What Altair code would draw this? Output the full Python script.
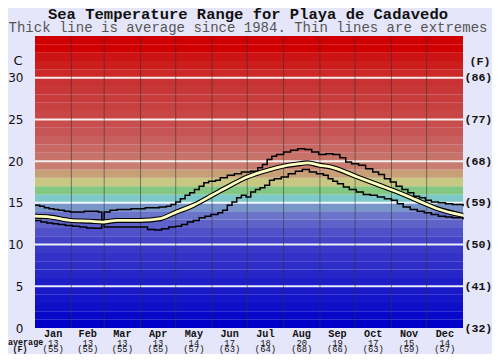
import altair as alt
import pandas as pd

# ---------------- data ----------------
months = ["Jan", "Feb", "Mar", "Apr", "May", "Jun", "Jul", "Aug", "Sep", "Oct", "Nov", "Dec"]
month_start = [0, 31, 59, 90, 120, 151, 181, 212, 243, 273, 304, 334]
month_len = [31, 28, 31, 30, 31, 30, 31, 31, 30, 31, 30, 31]
avg_c = [13, 13, 13, 13, 14, 17, 18, 20, 19, 17, 15, 14]
avg_f = [55, 55, 55, 55, 57, 63, 64, 68, 66, 63, 59, 57]

avg_day = [0, 13, 30, 47, 58, 70, 90, 107, 119, 135, 151, 164, 181, 198, 212, 226, 232, 243,
           252, 275, 294, 309, 326, 343, 365]
avg_temp = [13.4, 13.3, 12.9, 12.8, 12.7, 12.9, 12.9, 13.1, 13.8, 14.7, 15.9, 16.9, 18.1, 18.9,
            19.4, 19.7, 19.8, 19.5, 19.3, 18.1, 17.1, 16.3, 15.3, 14.3, 13.5]

max_day = [0, 4, 8, 12, 16, 20, 25, 30, 36, 42, 48, 54, 57, 59, 64, 70, 76, 82, 88, 94, 100, 106,
           112, 116, 120, 124, 128, 132, 136, 140, 144, 148, 154, 158, 164, 170, 176, 184, 190,
           194, 198, 202, 206, 212, 218, 224, 230, 236, 242, 248, 254, 260, 265, 270, 276, 282,
           288, 293, 298, 303, 308, 313, 318, 323, 328, 333, 338, 344, 350, 356, 365]
max_temp = [14.7, 14.6, 14.4, 14.3, 14.2, 14.1, 14.0, 13.9, 13.9, 14.0, 14.0, 13.9, 12.9, 13.9,
            14.1, 14.2, 14.2, 14.3, 14.3, 14.4, 14.4, 14.5, 14.6, 14.8, 15.1, 15.5, 15.9, 16.2,
            16.6, 17.0, 17.4, 17.6, 17.7, 18.0, 18.3, 18.5, 18.7, 18.8, 19.2, 19.6, 20.2, 20.6,
            20.8, 21.1, 21.3, 21.5, 21.4, 21.1, 20.8, 20.9, 20.8, 20.4, 19.9, 19.7, 19.5, 19.1,
            18.7, 18.4, 17.9, 17.5, 17.0, 16.6, 16.2, 15.8, 15.6, 15.3, 15.1, 15.0, 14.9, 14.8,
            14.6]

min_day = [0, 5, 10, 15, 20, 26, 32, 38, 44, 50, 56, 57, 59, 66, 74, 82, 90, 96, 102, 108, 114,
           120, 125, 130, 135, 140, 145, 150, 156, 160, 164, 168, 172, 176, 180, 184, 188, 192,
           196, 200, 204, 210, 216, 222, 228, 234, 240, 246, 250, 254, 258, 263, 268, 274, 280,
           286, 292, 298, 304, 309, 314, 320, 326, 332, 338, 344, 350, 356, 365]
min_temp = [12.9, 12.7, 12.6, 12.5, 12.4, 12.3, 12.2, 12.1, 12.0, 11.95, 12.0, 12.7, 12.1, 12.1,
            12.1, 12.1, 12.1, 11.8, 11.75, 11.9, 12.1, 12.2, 12.4, 12.7, 12.9, 13.2, 13.4, 13.6,
            13.8, 14.1, 14.7, 15.1, 15.6, 15.9, 15.7, 16.3, 16.6, 16.8, 17.1, 17.7, 17.9, 18.1,
            18.5, 18.8, 19.0, 18.7, 18.5, 18.3, 17.9, 17.6, 17.3, 16.9, 16.6, 16.3, 16.0, 15.9,
            15.7, 15.5, 15.3, 14.9, 14.5, 14.2, 14.0, 13.8, 13.6, 13.4, 13.3, 13.2, 13.0]

band_lo = list(range(0, 35))
band_colors = [
    "#0000c8", "#0808c8", "#0f0fc8", "#1414c8", "#1919c8", "#1e1ec8", "#2626c8", "#2d2dc8",
    "#3232c8", "#3a3ac8", "#4444c8", "#5050c8", "#5f62c8", "#6a74c8", "#7896c8", "#7dc8c8",
    "#82c882", "#c8c882", "#c8a078", "#c87d6e", "#c87369", "#c86964", "#c85f5f", "#c85555",
    "#c84e4e", "#c84646", "#c84141", "#c83c3c", "#c83737", "#c83232", "#cd2828", "#cd1e1e",
    "#cd1414", "#d00000", "#d00000"]
grid_c = [5, 10, 15, 20, 25, 30]

W, H = 428, 292
MONO = "Liberation Mono"

bands = pd.DataFrame({"lo": band_lo, "hi": [v + 1 for v in band_lo],
                      "band": [str(v) for v in band_lo]})
avg_df = pd.DataFrame({"day": avg_day, "t": avg_temp})
max_df = pd.DataFrame({"day": max_day, "t": max_temp})
min_df = pd.DataFrame({"day": min_day, "t": min_temp})
mdf = pd.DataFrame({"m": months, "mid": [s + l / 2 for s, l in zip(month_start, month_len)],
                    "c": [str(v) for v in avg_c], "f": ["(%d)" % v for v in avg_f]})
bounds = pd.DataFrame({"d": month_start[1:]})
grid = pd.DataFrame({"g": grid_c})

xs = alt.Scale(domain=[0, 365], nice=False, zero=False)
ys = alt.Scale(domain=[0, 35], nice=False, zero=False)
X = lambda f: alt.X(f, type="quantitative", scale=xs, axis=None)

band_layer = alt.Chart(bands).mark_rect().encode(
    x=alt.value(0), x2=alt.value(W),
    y=alt.Y("lo:Q", scale=ys, axis=alt.Axis(
        values=grid_c + [0], title=None, domain=False, ticks=False, grid=False,
        labelFont="DejaVu Sans", labelFontSize=12, labelColor="#111", labelPadding=12)),
    y2="hi:Q",
    color=alt.Color("band:N", scale=alt.Scale(domain=[str(v) for v in band_lo], range=band_colors),
                    legend=None),
)

right_axis = alt.Chart(bands).mark_rect(opacity=0).encode(
    y=alt.Y("lo:Q", scale=ys, axis=alt.Axis(
        orient="right", values=grid_c + [0], title=None, domain=False, ticks=False, grid=False,
        labelFont=MONO, labelFontWeight="bold", labelFontSize=11.6, labelColor="#111",
        labelPadding=1, labelExpr="'(' + round(datum.value * 9 / 5 + 32) + ')'")),
    x=alt.value(0), x2=alt.value(1), y2="hi:Q",
)

vlines = alt.Chart(bounds).mark_rule(color="#333", opacity=0.55, strokeWidth=1).encode(
    x=X("d"), y=alt.value(0), y2=alt.value(H))

hlines = alt.Chart(grid).mark_rule(color="white", opacity=0.9, strokeWidth=2).encode(
    y=alt.Y("g:Q", scale=ys, axis=None), x=alt.value(0), x2=alt.value(W))

max_line = alt.Chart(max_df).mark_line(color="black", strokeWidth=1.5, interpolate="step-after").encode(
    x=X("day"), y=alt.Y("t:Q", scale=ys, axis=None))
min_line = alt.Chart(min_df).mark_line(color="black", strokeWidth=1.5, interpolate="step-after").encode(
    x=X("day"), y=alt.Y("t:Q", scale=ys, axis=None))
avg_out = alt.Chart(avg_df).mark_line(color="black", strokeWidth=5, interpolate="monotone").encode(
    x=X("day"), y=alt.Y("t:Q", scale=ys, axis=None))
avg_in = alt.Chart(avg_df).mark_line(color="#ffffc0", strokeWidth=2.8, interpolate="monotone").encode(
    x=X("day"), y=alt.Y("t:Q", scale=ys, axis=None))

lab_m = alt.Chart(mdf).mark_text(font=MONO, fontWeight="bold", fontSize=10.2, color="#111",
                                 baseline="alphabetic").encode(
    x=X("mid"), y=alt.value(H + 9.2), text="m:N")
lab_c = alt.Chart(mdf).mark_text(font=MONO, fontSize=8.8, color="#111", baseline="alphabetic").encode(
    x=X("mid"), y=alt.value(H + 17.5), text="c:N")
lab_f = alt.Chart(mdf).mark_text(font=MONO, fontSize=8.8, color="#111", baseline="alphabetic").encode(
    x=X("mid"), y=alt.value(H + 24.4), text="f:N")

def txt(s, x, y, size, weight="normal", color="#111", font=MONO, align="center"):
    return alt.Chart(pd.DataFrame({"s": [s]})).mark_text(
        font=font, fontSize=size, fontWeight=weight, color=color, align=align,
        baseline="alphabetic").encode(
        x=alt.value(x), y=alt.value(y), text="s:N")

title = txt("Sea Temperature Range for Playa de Cadavedo", 213, -16.7, 15.5, "bold")
subtitle = txt("Thick line is average since 1984. Thin lines are extremes", 213, -4.2, 14, color="#555")
c_lab = txt("C", -17, 29, 13, font="DejaVu Sans")
f_lab = txt("(F)", 445, 29, 11.6, "bold")
avg_lab = txt("average", -27, H + 16.5, 8.4, "bold", align="left")
avgf_lab = txt("(F)", -15, H + 24.4, 8.4, "bold")

chart = alt.layer(
    band_layer, right_axis, hlines, vlines, min_line, max_line, avg_out, avg_in,
    lab_m, lab_c, lab_f, title, subtitle, c_lab, f_lab, avg_lab, avgf_lab,
).resolve_scale(y="independent").properties(
    width=W, height=H, background="#e6e6fa",
    padding={"left": 27, "top": 28, "right": 29, "bottom": 26},
    autosize=alt.AutoSizeParams(type="none"),
).configure_view(stroke=None)

chart.save("out.html", embed_options={"renderer": "svg", "actions": False})
